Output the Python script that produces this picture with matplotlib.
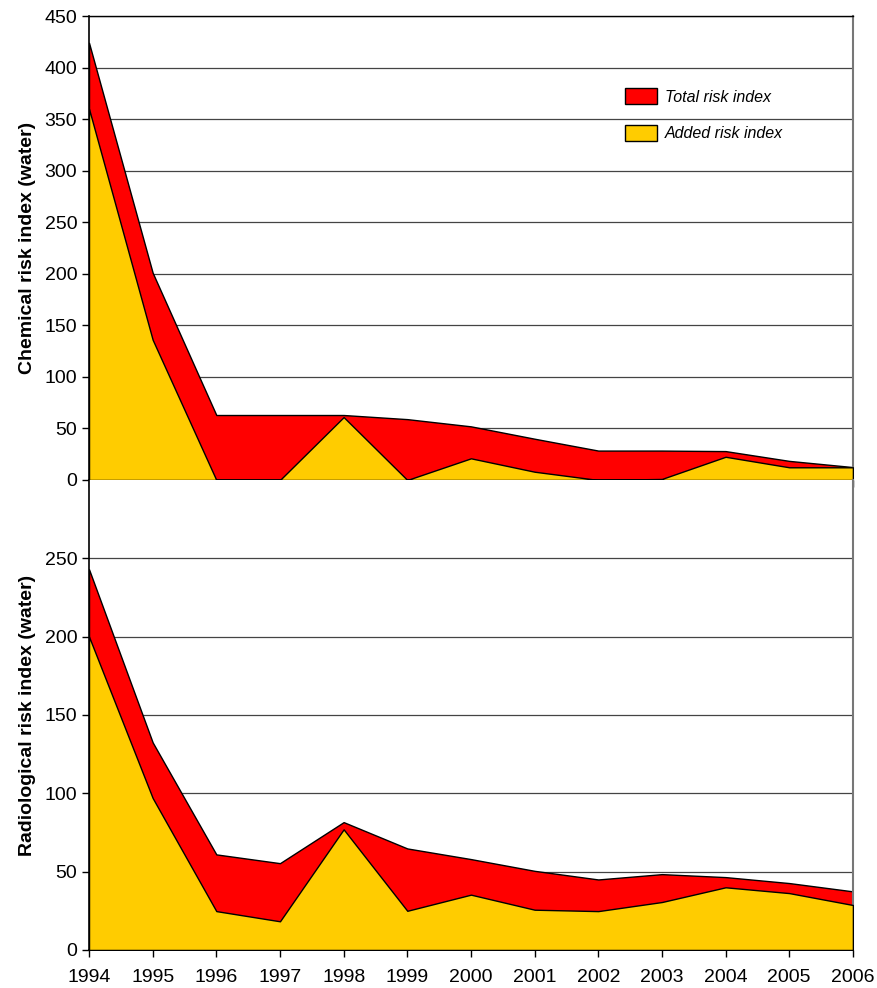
import numpy as np
import matplotlib.pyplot as plt
from matplotlib.patches import Patch

plt.rcParams['font.family'] = ['Liberation Sans', 'DejaVu Sans']

years = np.arange(1994, 2007)

# chemical risk index (water)
chem_total = [424, 201, 63, 63, 63, 59, 52, 40, 28.5, 28.5, 28, 18.5, 12.5]
chem_added = [360, 136, 0, 0, 61, 0, 21, 8, 0, 1, 22.5, 12.3, 12.3]

# radiological risk index (water)
rad_total = [243, 132.5, 61, 55.4, 81.6, 64.8, 58, 50.5, 45, 48.4, 46.5, 42.7, 37.4]
rad_added = [200, 97, 24.8, 18.3, 77, 25, 35.3, 25.7, 24.8, 30.6, 40, 36.3, 28.7]

red = '#FF0000'
yellow = '#FFCC00'


def area_panel(ax, total, added, ymax, ticks):
    ax.fill_between(years, 0, total, facecolor=red, edgecolor='black', linewidth=1.0, zorder=2)
    ax.fill_between(years, 0, added, facecolor=yellow, edgecolor='black', linewidth=1.0, zorder=3)
    ax.set_xlim(1994, 2006)
    ax.set_ylim(0, ymax)
    ax.set_yticks(ticks)
    ax.yaxis.grid(True, color='#444444', linewidth=0.9, zorder=1)
    ax.set_axisbelow(True)
    ax.spines['right'].set_color('#777777')
    ax.spines['right'].set_linewidth(1.5)
    ax.spines['left'].set_linewidth(1.2)
    ax.spines['bottom'].set_linewidth(1.2)
    ax.tick_params(axis='both', direction='out', length=5, width=1, labelsize=14)
    ax.set_xticks(years)


fig = plt.figure(figsize=(8.77, 9.88), dpi=100)
ax_chem = fig.add_axes([0.1015, 0.5142, 0.871, 0.4696])
ax_rad = fig.add_axes([0.1015, 0.0385, 0.871, 0.4757])

area_panel(ax_chem, chem_total, chem_added, 450, np.arange(0, 451, 50))
ax_chem.spines['top'].set_linewidth(1.0)
ax_chem.tick_params(axis='x', labelbottom=False)
ax_chem.set_ylabel('Chemical risk index (water)', fontsize=14, fontweight='bold', labelpad=6)

area_panel(ax_rad, rad_total, rad_added, 300, np.arange(0, 251, 50))
ax_rad.spines['top'].set_visible(False)
ax_rad.tick_params(axis='x', pad=9)
ax_rad.set_ylabel('Radiological risk index (water)', fontsize=14, fontweight='bold', labelpad=6)

handles = [Patch(facecolor=red, edgecolor='black', linewidth=1.0, label='Total risk index'),
           Patch(facecolor=yellow, edgecolor='black', linewidth=1.0, label='Added risk index')]
leg = ax_chem.legend(handles=handles, loc='upper left', bbox_to_anchor=(0.683, 0.875),
                     frameon=False, handlelength=2.0, handleheight=1.15, labelspacing=1.25,
                     handletextpad=0.5, prop={'style': 'italic', 'size': 11.5})

fig.savefig('out.png', dpi=100)
